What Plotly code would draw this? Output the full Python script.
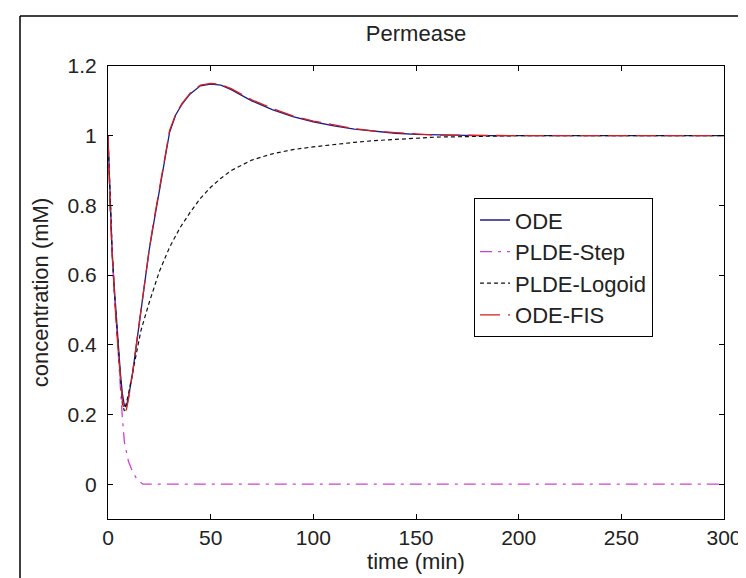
import plotly.graph_objects as go

# ---- data ----
t_ode = [0, 1, 2, 3, 4, 5, 6, 7, 8, 9, 10, 12, 14, 16, 18, 20, 22, 24, 26, 28, 30, 33, 36,
         40, 45, 50, 55, 60, 70, 80, 90, 100, 110, 120, 130, 140, 150, 160, 180, 200, 250, 300]
ode = [1.0, 0.80, 0.67, 0.57, 0.48, 0.40, 0.32, 0.26, 0.225, 0.225, 0.25, 0.32, 0.41, 0.50,
       0.59, 0.67, 0.74, 0.81, 0.88, 0.95, 1.01, 1.06, 1.09, 1.12, 1.143, 1.148, 1.145, 1.132,
       1.10, 1.075, 1.055, 1.04, 1.028, 1.019, 1.012, 1.007, 1.004, 1.002, 1.0, 1.0, 1.0, 1.0]
ode_fis = [1.0, 0.79, 0.66, 0.55, 0.46, 0.38, 0.30, 0.24, 0.205, 0.215, 0.245, 0.32, 0.41, 0.50,
           0.59, 0.67, 0.745, 0.815, 0.885, 0.955, 1.015, 1.062, 1.092, 1.122, 1.145, 1.15, 1.147,
           1.135, 1.103, 1.078, 1.057, 1.042, 1.030, 1.020, 1.013, 1.008, 1.005, 1.002, 1.0, 1.0,
           1.0, 1.0]
t_step = [0, 1, 2, 3, 4, 5, 6, 7, 8, 9, 10, 12, 14, 17, 300]
step = [1.0, 0.80, 0.67, 0.56, 0.46, 0.37, 0.28, 0.19, 0.12, 0.09, 0.065, 0.035, 0.015, 0.0, 0.0]
t_logoid = [0, 1, 2, 3, 4, 5, 6, 7, 8, 10, 12, 14, 16, 20, 25, 30, 35, 40, 45, 50, 55, 60, 70,
            80, 90, 100, 110, 120, 130, 140, 150, 160, 180, 200, 250, 300]
logoid = [1.0, 0.80, 0.67, 0.56, 0.47, 0.38, 0.30, 0.23, 0.21, 0.26, 0.32, 0.38, 0.44, 0.52,
          0.61, 0.68, 0.735, 0.78, 0.82, 0.852, 0.878, 0.90, 0.93, 0.948, 0.96, 0.968, 0.975,
          0.981, 0.986, 0.99, 0.993, 0.996, 0.998, 1.0, 1.0, 1.0]

x_ticks = [0, 50, 100, 150, 200, 250, 300]
y_ticks = [0, 0.2, 0.4, 0.6, 0.8, 1, 1.2]
y_tick_text = ["0", "0.2", "0.4", "0.6", "0.8", "1", "1.2"]

FONT = "Liberation Sans, Arial, sans-serif"

fig = go.Figure()
fig.add_trace(go.Scatter(x=t_ode, y=ode, mode="lines", name="ODE",
                         line=dict(color="#1c1c8c", width=1.3)))
fig.add_trace(go.Scatter(x=t_step, y=step, mode="lines", name="PLDE-Step",
                         line=dict(color="#d040d0", width=1.3, dash="12px,6px,3px,6px")))
fig.add_trace(go.Scatter(x=t_logoid, y=logoid, mode="lines", name="PLDE-Logoid",
                         line=dict(color="#111111", width=1.2, dash="4px,3px")))
fig.add_trace(go.Scatter(x=t_ode, y=ode_fis, mode="lines", name="ODE-FIS",
                         line=dict(color="#d02020", width=1.3, dash="20px,8px")))

axis_common = dict(showgrid=False, zeroline=False, showline=True, linecolor="black",
                   linewidth=1.2, mirror="ticks", ticks="inside", ticklen=5,
                   tickcolor="black", tickfont=dict(family=FONT, size=21, color="#222"))

fig.update_layout(
    width=746, height=578,
    margin=dict(l=100, r=23, t=58, b=67),
    paper_bgcolor="white", plot_bgcolor="white",
    title=dict(text="Permease", x=0.5, xref="paper", xanchor="center",
               y=(578 - 25) / 578, yanchor="middle",
               font=dict(family=FONT, size=22, color="#222")),
    xaxis=dict(range=[0, 300], tickvals=x_ticks, **axis_common,
               title=dict(text="time (min)", standoff=2,
                          font=dict(family=FONT, size=22, color="#222"))),
    yaxis=dict(range=[-0.1, 1.2], tickvals=y_ticks, ticktext=y_tick_text, **axis_common,
               ticklabelstandoff=6,
               title=dict(text="concentration (mM)", standoff=12,
                          font=dict(family=FONT, size=22, color="#222"))),
    legend=dict(x=(470 - 100) / 623, y=(511 - 190) / 453, xanchor="left", yanchor="top",
                bgcolor="white", bordercolor="black", borderwidth=1.2,
                font=dict(family=FONT, size=22, color="#222")),
    showlegend=True,
)

# outer figure frame (top and left edges visible in the reference)
fx = (11 - 100) / 623
fy = (511 - 8) / 453
fig.add_shape(type="line", xref="paper", yref="paper", x0=fx, y0=fy, x1=1.2, y1=fy,
              line=dict(color="black", width=1.5))
fig.add_shape(type="line", xref="paper", yref="paper", x0=fx, y0=fy, x1=fx, y1=-0.3,
              line=dict(color="black", width=1.5))

fig.write_html("out.html")
